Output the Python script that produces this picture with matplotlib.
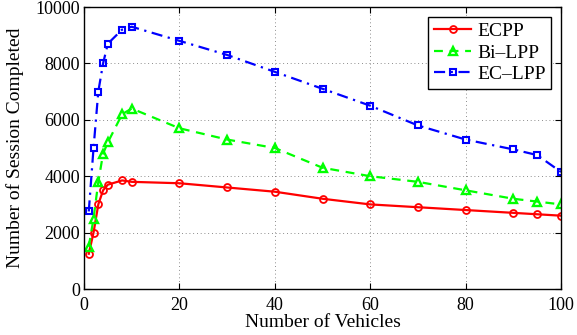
import matplotlib
matplotlib.use("Agg")
import matplotlib.pyplot as plt

x = [1, 2, 3, 4, 5, 8, 10, 20, 30, 40, 50, 60, 70, 80, 90, 95, 100]
ecpp = [1250, 2000, 3000, 3500, 3700, 3850, 3800, 3750, 3600, 3450, 3200, 3000, 2900, 2800, 2700, 2650, 2600]
bilpp = [1500, 2500, 3800, 4800, 5200, 6200, 6400, 5700, 5300, 5000, 4300, 4000, 3800, 3500, 3200, 3100, 3000]
eclpp = [2750, 5000, 7000, 8000, 8700, 9200, 9300, 8800, 8300, 7700, 7100, 6500, 5800, 5300, 4950, 4750, 4150]

xticks = [0, 20, 40, 60, 80, 100]
yticks = [0, 2000, 4000, 6000, 8000, 10000]

plt.rcParams['font.family'] = ['Liberation Serif', 'DejaVu Serif']

fig = plt.figure(figsize=(5.77, 3.35), dpi=100)
ax = fig.add_axes([84/577, 46/335, 477/577, 282/335])

ax.plot(x, ecpp, color='#ff0000', linestyle='-', linewidth=1.6, marker='o',
        markersize=5, markerfacecolor='none', markeredgewidth=1.3, label='ECPP')
ax.plot(x, bilpp, color='#00ff00', linestyle=(0, (4, 3)), linewidth=1.6, marker='^',
        markersize=6, markerfacecolor='none', markeredgewidth=1.7, label='Bi\u2013LPP')
ax.plot(x, eclpp, color='#0000ff', linestyle=(0, (5, 2.5, 1, 2.5)), linewidth=1.6, marker='s',
        markersize=4.5, markerfacecolor='none', markeredgewidth=1.5, label='EC\u2013LPP')

ax.set_xlim(0, 100)
ax.set_ylim(0, 10000)
ax.set_xticks(xticks)
ax.set_yticks(yticks)
ax.tick_params(direction='in', top=True, right=True, labelsize=13, length=4, width=0.8)
ax.tick_params(axis='x', pad=6)
ax.tick_params(axis='y', pad=3)
ax.grid(True, linestyle=(0, (1, 3.5)), color='#666666', linewidth=0.6)
for s in ax.spines.values():
    s.set_linewidth(1.0)

ax.set_xlabel('Number of Vehicles', fontsize=14, labelpad=0)
ax.set_ylabel('Number of Session Completed', fontsize=14, labelpad=8)

leg = ax.legend(loc='upper right', fontsize=14, frameon=True, fancybox=False,
                edgecolor='black', framealpha=1, borderpad=0.3, labelspacing=0.2,
                handlelength=1.9, handletextpad=0.3, borderaxespad=0.5)
leg.get_frame().set_linewidth(1.0)

fig.savefig('out.png', dpi=100)
